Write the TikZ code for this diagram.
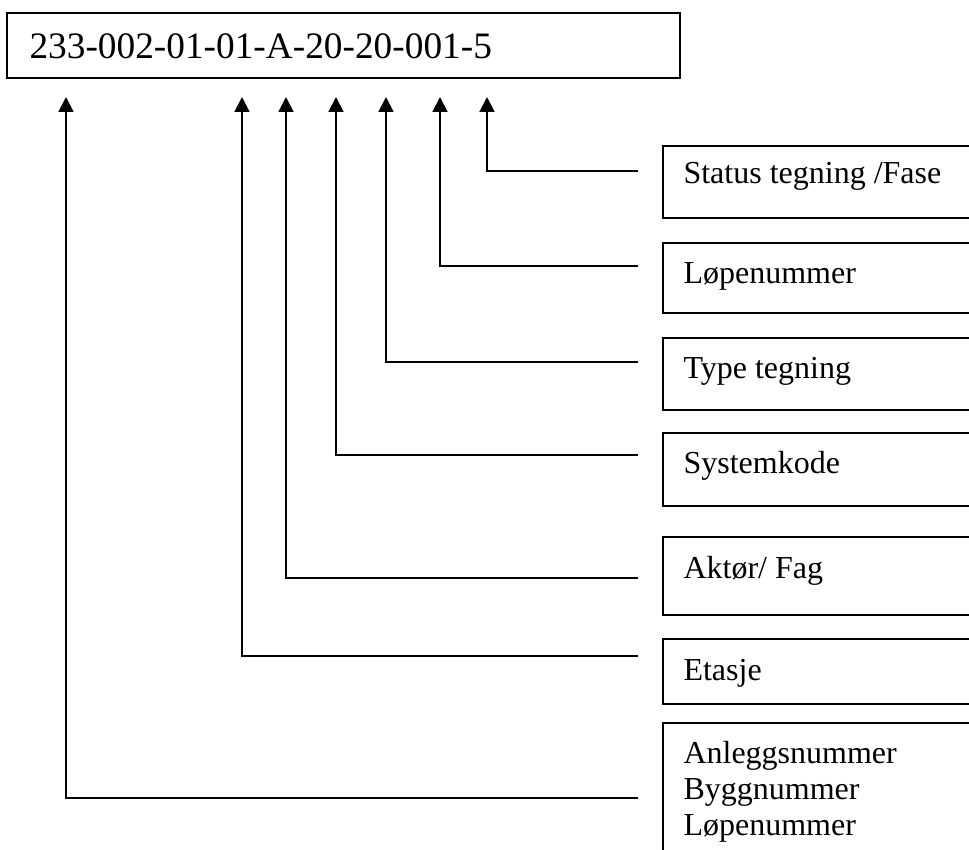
\documentclass[tikz,border=0pt]{standalone}
\usepackage{fontspec}
\setmainfont{Liberation Serif}
\usetikzlibrary{arrows.meta}
\begin{document}
\begin{tikzpicture}[x=0.375pt,y=-0.375pt,
  frame/.style={draw=black,line width=0.75pt},
  codetext/.style={anchor=base west,inner sep=0pt,font=\fontsize{14}{16}\selectfont},
  lbl/.style={anchor=base west,inner sep=0pt,align=left,font=\fontsize{12}{13.5}\selectfont},
  conn/.style={draw=black,line width=0.75pt,-{Triangle[length=5.6pt,width=5.6pt]}}]
\useasboundingbox (0,0) rectangle (969,849);
\clip (0,0) rectangle (969,849);
\fill[white] (0,0) rectangle (969,849);
% top code box
\draw[frame] (7,13) rectangle (680,78);
\node[codetext] (code) at (29,58) {233-002-01-01-A-20-20-001-5};
% label boxes
\draw[frame] (663,146) rectangle (990,218);
\draw[frame] (663,243) rectangle (990,313);
\draw[frame] (663,338) rectangle (990,410);
\draw[frame] (663,433) rectangle (990,506);
\draw[frame] (663,537) rectangle (990,615);
\draw[frame] (663,639) rectangle (990,704);
\draw[frame] (663,723) rectangle (990,880);
\node[lbl] (status) at (683,183) {Status tegning /Fase};
\node[lbl] (lopenr) at (683,283) {Løpenummer};
\node[lbl] (type) at (683,378) {Type tegning};
\node[lbl] (system) at (683,473) {Systemkode};
\node[lbl] (aktor) at (683,578) {Aktør/ Fag};
\node[lbl] (etasje) at (683,680) {Etasje};
\node[lbl] (anlegg) at (683,835) {Anleggsnummer\\Byggnummer\\Løpenummer};
% connector ends
\coordinate (e1) at (638,171); \coordinate (t1) at (487,97);
\coordinate (e2) at (638,266); \coordinate (t2) at (440,97);
\coordinate (e3) at (638,362); \coordinate (t3) at (386,97);
\coordinate (e4) at (638,455); \coordinate (t4) at (336,97);
\coordinate (e5) at (638,578); \coordinate (t5) at (286,97);
\coordinate (e6) at (638,656); \coordinate (t6) at (242,97);
\coordinate (e7) at (638,798); \coordinate (t7) at (66,97);
\draw[conn] (e1) -| (t1);
\draw[conn] (e2) -| (t2);
\draw[conn] (e3) -| (t3);
\draw[conn] (e4) -| (t4);
\draw[conn] (e5) -| (t5);
\draw[conn] (e6) -| (t6);
\draw[conn] (e7) -| (t7);
\end{tikzpicture}
\end{document}
